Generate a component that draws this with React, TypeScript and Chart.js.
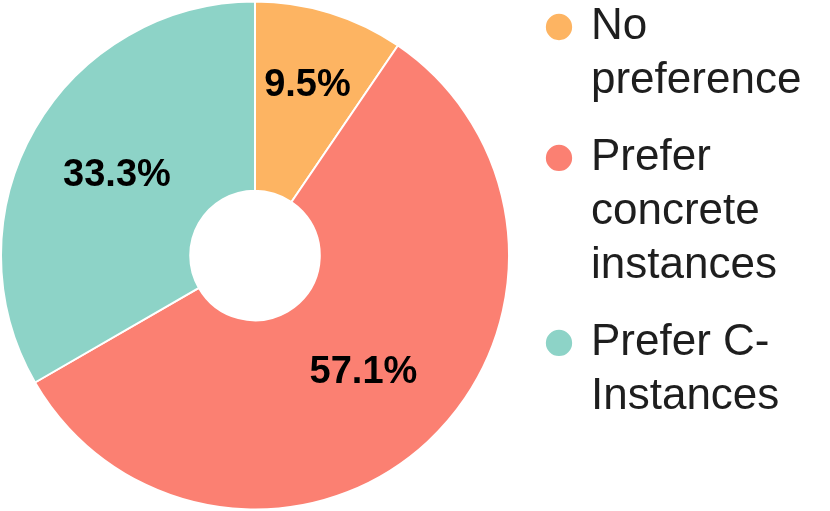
import React, { useEffect, useRef } from "react";
import { Chart, registerables } from "chart.js";

Chart.register(...registerables);

const categories: string[][] = [
  ["No", "preference"],
  ["Prefer", "concrete", "instances"],
  ["Prefer C-", "Instances"],
];
const shares: number[] = [9.5, 57.1, 33.3];
const colors: string[] = ["#FDB462", "#FB8072", "#8DD3C7"];

const FONT = "'Liberation Sans', Arial, Helvetica, sans-serif";

const sliceLabels = {
  id: "sliceLabels",
  afterDatasetsDraw(chart: any) {
    const ctx = chart.ctx;
    const meta = chart.getDatasetMeta(0);
    const values = chart.data.datasets[0].data as number[];
    ctx.save();
    ctx.font = `bold 38px ${FONT}`;
    ctx.fillStyle = "#000";
    ctx.textAlign = "center";
    ctx.textBaseline = "middle";
    meta.data.forEach((arc: any, i: number) => {
      const p = arc.getProps(["x", "y", "startAngle", "endAngle", "innerRadius", "outerRadius"], true);
      const mid = (p.startAngle + p.endAngle) / 2;
      const span = p.endAngle - p.startAngle;
      const frac = span < 0.8 ? 0.6 : 0.5;
      const r = p.innerRadius + (p.outerRadius - p.innerRadius) * frac;
      ctx.fillText(values[i].toFixed(1) + "%", p.x + Math.cos(mid) * r, p.y + Math.sin(mid) * r);
    });
    ctx.restore();
  },
};

const legendPlacement = {
  id: "legendPlacement",
  beforeLayout(chart: any) {
    const lg = chart.legend;
    if (lg && !lg.__wrapped) {
      const orig = lg.fit.bind(lg);
      lg.fit = () => {
        orig();
        lg.width = 320;
      };
      lg.__wrapped = true;
    }
  },
  afterLayout(chart: any) {
    const lg = chart.legend;
    if (!lg) return;
    lg.left += 16;
    lg.right += 16;
    lg.top -= 18;
    lg.bottom -= 18;
  },
};

export default function App() {
  const ref = useRef<HTMLCanvasElement | null>(null);
  useEffect(() => {
    if (!ref.current) return;
    const chart = new Chart(ref.current, {
      type: "doughnut",
      data: {
        labels: categories as any,
        datasets: [
          {
            data: shares,
            backgroundColor: colors,
            borderColor: "#ffffff",
            borderWidth: 2,
          },
        ],
      },
      options: {
        animation: false,
        responsive: true,
        maintainAspectRatio: false,
        cutout: "25.5%",
        layout: { padding: 0 },
        plugins: {
          tooltip: { enabled: false },
          legend: {
            position: "right",
            align: "start",
            labels: {
              usePointStyle: true,
              pointStyle: "circle",
              boxWidth: 20,
              boxHeight: 20,
              padding: 23,
              color: "#1e1e1e",
              font: { family: FONT, size: 44, lineHeight: 1.227 },
            },
          },
        },
      },
      plugins: [sliceLabels, legendPlacement],
    });
    return () => chart.destroy();
  }, []);
  return (
    <div style={{ position: "fixed", left: 0, top: 0, width: 830, height: 511, background: "#fff" }}>
      <canvas ref={ref} />
    </div>
  );
}
